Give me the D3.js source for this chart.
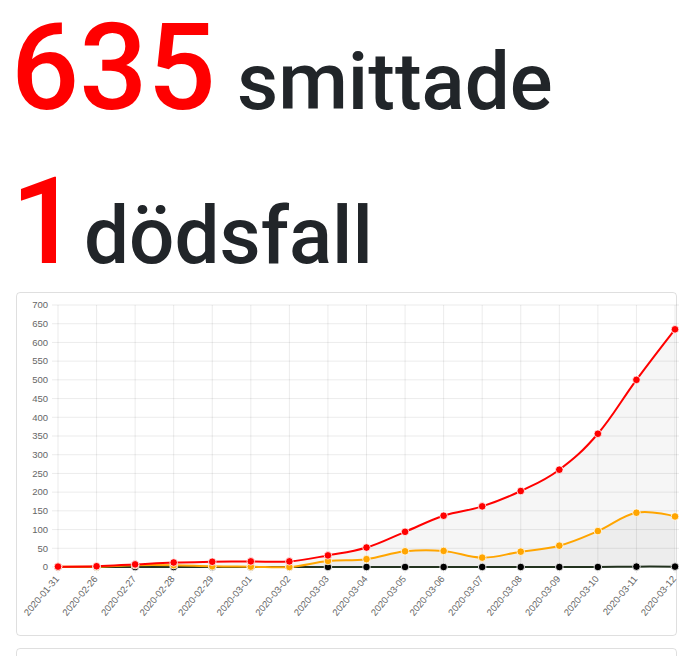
<!DOCTYPE html>
<html lang="sv">
<head>
    <meta charset="UTF-8">
    <meta name="viewport" content="width=device-width, initial-scale=1.0">
    <title>Smittade och dödsfall</title>
    <style>
        body {
            margin: 0;
            background-color: #FFFFFF;
            font-family: Roboto, "Noto Sans", sans-serif;
            overflow: hidden;
        }
        .card {
            position: absolute;
            left: 16px;
            width: 661px;
            border: 1px solid rgba(0, 0, 0, 0.125);
            border-radius: 4px;
            box-sizing: border-box;
        }
        #chart {
            position: absolute;
            left: 0;
            top: 0;
        }
    </style>
</head>
<body>
    <div class="card" style="top:292px;height:344px;"></div>
    <div class="card" style="top:648px;height:60px;"></div>
    <svg id="chart" width="700" height="656"></svg>

    <script src="https://d3js.org/d3.v7.min.js"></script>
    <script>
        // Data
        const dates = ["2020-01-31", "2020-02-26", "2020-02-27", "2020-02-28", "2020-02-29",
            "2020-03-01", "2020-03-02", "2020-03-03", "2020-03-04", "2020-03-05", "2020-03-06",
            "2020-03-07", "2020-03-08", "2020-03-09", "2020-03-10", "2020-03-11", "2020-03-12"];
        const infected = [1, 2, 7, 12, 14, 15, 15, 31, 52, 94, 137, 162, 203, 260, 356, 500, 635];
        const newCases = [1, 1, 5, 5, 2, 1, 0, 16, 21, 42, 43, 25, 41, 57, 96, 145, 135];
        const deaths = [0, 0, 0, 0, 0, 0, 0, 0, 0, 0, 0, 0, 0, 0, 0, 1, 1];
        const yTicks = [0, 50, 100, 150, 200, 250, 300, 350, 400, 450, 500, 550, 600, 650, 700];

        const totalInfected = infected[infected.length - 1];
        const totalDeaths = deaths[deaths.length - 1];

        const svg = d3.select("#chart");

        // Headlines: big red number followed by a word
        function headline(num, word, baseline, wordX) {
            const g = svg.append("g").attr("font-weight", 500);
            g.append("text")
                .attr("x", 11)
                .attr("y", baseline)
                .attr("fill", "#FF0000")
                .attr("font-size", "120px")
                .text(num);
            g.append("text")
                .attr("x", wordX)
                .attr("y", baseline)
                .attr("fill", "#212529")
                .attr("font-size", "80px")
                .text(word);
        }
        headline(totalInfected, "smittade", 109, 237);
        headline(totalDeaths, "dödsfall", 263, 84);

        // Chart area
        const plotLeft = 58, plotRight = 675, plotTop = 305, plotBottom = 567;
        const x = d3.scalePoint().domain(dates).range([plotLeft, plotRight]);
        const y = d3.scaleLinear().domain([0, 700]).range([plotBottom, plotTop]);

        const chart = svg.append("g")
            .attr("font-family", "'Liberation Sans', Arial, sans-serif");

        // grid lines
        chart.selectAll(".hgrid").data(yTicks).enter().append("line")
            .attr("x1", plotLeft - 6).attr("x2", plotRight + 4)
            .attr("y1", d => y(d)).attr("y2", d => y(d))
            .attr("stroke", "rgba(0,0,0,0.08)")
            .attr("stroke-width", 1);
        chart.selectAll(".vgrid").data(dates).enter().append("line")
            .attr("x1", d => x(d)).attr("x2", d => x(d))
            .attr("y1", plotTop).attr("y2", plotBottom + 6)
            .attr("stroke", "rgba(0,0,0,0.08)")
            .attr("stroke-width", 1);

        // y tick labels
        chart.selectAll(".ylab").data(yTicks).enter().append("text")
            .attr("x", plotLeft - 10)
            .attr("y", d => y(d))
            .attr("dy", "0.35em")
            .attr("text-anchor", "end")
            .attr("font-size", "9.5px")
            .attr("fill", "#666")
            .text(d => d);

        // x tick labels, rotated
        chart.selectAll(".xlab").data(dates).enter().append("text")
            .attr("transform", d => `translate(${x(d) - 1},${plotBottom + 10}) rotate(-50)`)
            .attr("text-anchor", "end")
            .attr("dy", "0.35em")
            .attr("font-size", "9.5px")
            .attr("fill", "#666")
            .text(d => d);

        const curve = d3.curveCardinal.tension(-0.15);

        const series = [
            { values: infected, color: "#FF0000" },
            { values: newCases, color: "#FFA500" },
            { values: deaths, color: "#000000", line: "#22331f" }
        ];

        // fills first
        series.forEach(s => {
            const area = d3.area()
                .x((d, i) => x(dates[i]))
                .y0(y(0))
                .y1(d => y(d))
                .curve(curve);
            chart.append("path")
                .datum(s.values)
                .attr("d", area)
                .attr("fill", "rgba(0,0,0,0.035)");
        });

        // lines and points, drawn in reverse so red ends on top
        series.slice().reverse().forEach(s => {
            const line = d3.line()
                .x((d, i) => x(dates[i]))
                .y(d => y(d))
                .curve(curve);
            chart.append("path")
                .datum(s.values)
                .attr("d", line)
                .attr("fill", "none")
                .attr("stroke", s.line || s.color)
                .attr("stroke-width", 2);
        });
        series.slice().reverse().forEach(s => {
            chart.selectAll(null).data(s.values).enter().append("circle")
                .attr("cx", (d, i) => x(dates[i]))
                .attr("cy", d => y(d))
                .attr("r", 3.8)
                .attr("fill", s.color)
                .attr("stroke", "#fff")
                .attr("stroke-width", 0.8);
        });
    </script>
</body>
</html>
